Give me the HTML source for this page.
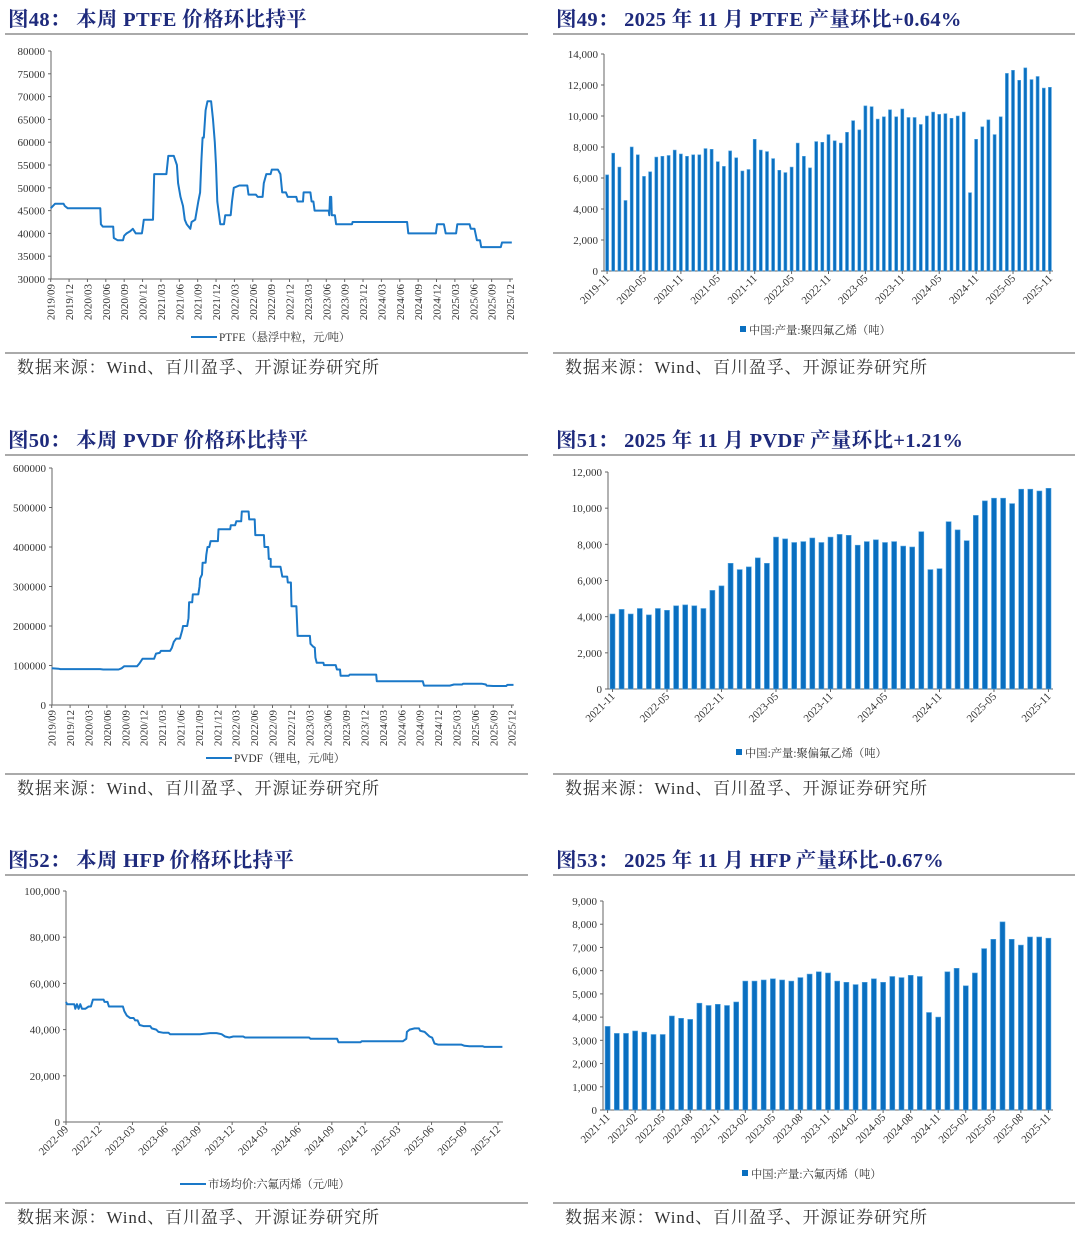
<!DOCTYPE html>
<html><head><meta charset="utf-8">
<style>
html,body{margin:0;padding:0;background:#fff;}
svg{display:block;}
text{font-family:"Liberation Serif","Noto Serif CJK SC","Noto Sans CJK SC",serif;fill:#222;}
.ttl{font-weight:bold;font-size:20.5px;fill:#1e2a7c;letter-spacing:0.3px;}
.src{font-size:17px;fill:#333;letter-spacing:0.9px;}
.tk{font-size:11px;fill:#333;}
.lg{font-size:11.3px;fill:#333;}
</style></head>
<body>
<svg id="root" width="1080" height="1238" viewBox="0 0 1080 1238"></svg>
<script>
// ===== Chart 48 PTFE price (x = months since 2019-09) =====
const ptfeMonths=[0,0.7,2.1,2.3,2.8,8.1,8.2,8.5,10.2,10.3,10.9,11.8,12.0,12.4,13.0,13.4,13.9,14.9,15.0,15.2,16.7,16.9,18.9,19.2,20.1,20.6,20.8,21.2,21.6,21.9,22.2,22.8,23.0,23.6,24.1,24.4,24.6,24.8,25.0,25.3,25.6,26.2,26.5,26.8,27.0,27.2,27.4,27.7,28.3,28.5,29.4,29.6,29.9,30.8,32.1,32.3,33.5,33.8,34.6,34.8,35.2,35.9,36.1,37.1,37.5,37.8,38.4,38.7,40.1,40.3,41.2,41.3,42.4,42.6,42.9,43.1,45.4,45.5,45.6,45.8,45.9,46.4,46.6,49.2,49.3,58.2,58.4,62.9,63.1,64.2,64.5,66.2,66.4,68.4,68.6,69.2,69.6,70.1,70.3,73.5,73.7,75.3];
const ptfeValues=[45500,46500,46500,46000,45500,45500,42000,41500,41500,39000,38500,38500,39500,40000,40500,41000,40000,40000,41000,43000,43000,53000,53000,57000,57000,55000,51000,48000,46000,43000,42000,41000,42500,43000,47000,49000,56000,61000,61000,67000,69000,69000,65000,60000,55000,47000,45000,42000,42000,44000,44000,47000,50000,50500,50500,48500,48500,48000,48000,51000,53000,53000,54000,54000,53000,49000,49000,48000,48000,47000,47000,49000,49000,47000,47000,45000,45000,44000,48000,48000,44000,44000,42000,42000,42500,42500,40000,40000,42000,42000,40000,40000,42000,42000,41000,41000,38500,38500,37000,37000,38000,38000];
const ptfeYTicks=[30000,35000,40000,45000,50000,55000,60000,65000,70000,75000,80000];
const ptfeXLabels=["2019/09","2019/12","2020/03","2020/06","2020/09","2020/12","2021/03","2021/06","2021/09","2021/12","2022/03","2022/06","2022/09","2022/12","2023/03","2023/06","2023/09","2023/12","2024/03","2024/06","2024/09","2024/12","2025/03","2025/06","2025/09","2025/12"];

// ===== Chart 50 PVDF price =====
const pvdfMonths=[0,1.1,1.4,7.9,8.4,10.9,11.4,11.8,13.9,14.3,14.8,16.7,17.0,17.6,17.8,19.3,19.6,19.9,20.3,20.9,21.3,21.4,22.1,22.3,22.4,22.9,23.0,23.9,24.1,24.2,24.5,24.6,25.1,25.2,25.4,25.7,25.9,27.1,27.2,29.1,29.2,29.9,30.1,30.9,31.0,32.1,32.2,33.1,33.2,34.6,34.7,35.3,35.4,35.7,35.7,37.3,37.6,38.4,38.5,39.0,39.1,39.9,40.1,42.1,42.2,42.6,42.9,43.0,43.2,44.3,44.4,46.3,46.5,47.0,47.1,48.4,48.6,52.9,53.0,60.5,60.7,64.9,65.6,66.9,67.1,70.1,70.8,70.9,72.0,74.1,74.3,75.3];
const pvdfValues=[93000,92000,91000,91000,90000,90000,93000,98000,98000,105000,117000,117000,130000,132000,137000,137000,145000,160000,168000,168000,190000,200000,200000,220000,260000,260000,280000,280000,300000,320000,330000,360000,360000,380000,400000,400000,415000,415000,445000,445000,455000,455000,465000,465000,490000,490000,470000,470000,430000,430000,400000,400000,370000,370000,350000,350000,325000,325000,310000,310000,250000,250000,175000,175000,155000,148000,145000,120000,107000,107000,101000,101000,90000,90000,74000,74000,77000,77000,60000,60000,49000,49000,52000,52000,54000,54000,52000,49000,48000,48000,51000,51000];
const pvdfYTicks=[0,100000,200000,300000,400000,500000,600000];
const pvdfXLabels=ptfeXLabels.slice();

// ===== Chart 52 HFP price (x = months since 2022-09) =====
const hfpMonths=[0,0.1,0.75,0.84,0.99,1.14,1.29,1.44,1.74,2.04,2.25,2.43,3.39,3.48,3.75,3.87,5.14,5.26,5.5,5.8,6.1,6.25,6.46,6.64,7.0,7.6,7.75,8.14,8.35,8.8,9.25,9.4,12.1,13.0,13.6,14.05,14.35,14.74,15.1,16.0,16.16,21.95,22.07,24.47,24.6,26.58,26.7,30.42,30.57,30.72,30.78,31.02,31.47,31.86,31.98,32.37,32.82,33.06,33.27,33.57,35.68,35.98,36.43,37.6,37.79,39.4];
const hfpValues=[52000,51000,51000,49000,51000,49000,51000,49000,49000,50000,50000,53000,53000,52000,52000,50000,50000,48000,46000,45000,45000,44000,44000,42000,41500,41500,40500,40000,39000,38600,38600,38000,38000,38500,38500,38000,37000,36600,37000,37000,36600,36600,36000,36000,34500,34500,35000,35000,35500,36000,39000,40000,40500,40500,39500,39000,37000,36500,34000,33500,33500,33000,32800,32800,32500,32500];
const hfpYTicks=[0,20000,40000,60000,80000,100000];
const hfpXLabels=["2022-09","2022-12","2023-03","2023-06","2023-09","2023-12","2024-03","2024-06","2024-09","2024-12","2025-03","2025-06","2025-09","2025-12"];

// ===== Chart 49 PTFE output (monthly from 2019-11) =====
const ptfeOutput=[6200,7600,6700,4550,8000,7500,6100,6400,7350,7400,7450,7800,7550,7400,7500,7500,7900,7850,7050,6750,7750,7300,6450,6550,8500,7800,7700,7250,6500,6350,6700,8250,7400,6650,8350,8300,8800,8400,8250,8950,9700,9100,10650,10600,9800,9950,10400,9950,10450,9900,9900,9450,10000,10250,10100,10150,9850,10000,10250,5050,8500,9300,9750,8800,9950,12750,12950,12300,13100,12350,12550,11800,11850];
const ptfeOutYTicks=[0,2000,4000,6000,8000,10000,12000,14000];
const ptfeOutXLabels=["2019-11","2020-05","2020-11","2021-05","2021-11","2022-05","2022-11","2023-05","2023-11","2024-05","2024-11","2025-05","2025-11"];

// ===== Chart 51 PVDF output (monthly from 2021-11) =====
const pvdfOutput=[4150,4400,4150,4450,4100,4450,4350,4600,4650,4600,4450,5450,5700,6950,6600,6750,7250,6950,8400,8300,8100,8150,8350,8100,8400,8550,8500,7950,8150,8250,8100,8150,7900,7850,8700,6600,6650,9250,8800,8200,9600,10400,10550,10550,10250,11050,11050,10950,11100];
const pvdfOutYTicks=[0,2000,4000,6000,8000,10000,12000];
const pvdfOutXLabels=["2021-11","2022-05","2022-11","2023-05","2023-11","2024-05","2024-11","2025-05","2025-11"];

// ===== Chart 53 HFP output (monthly from 2021-11) =====
const hfpOutput=[3600,3300,3300,3400,3350,3250,3250,4050,3950,3900,4600,4500,4550,4500,4650,5550,5550,5600,5650,5600,5550,5700,5850,5950,5900,5550,5500,5400,5500,5650,5500,5750,5700,5800,5750,4200,4000,5950,6100,5350,5900,6950,7350,8100,7350,7100,7450,7450,7400];
const hfpOutYTicks=[0,1000,2000,3000,4000,5000,6000,7000,8000,9000];
const hfpOutXLabels=["2021-11","2022-02","2022-05","2022-08","2022-11","2023-02","2023-05","2023-08","2023-11","2024-02","2024-05","2024-08","2024-11","2025-02","2025-05","2025-08","2025-11"];

const NS='http://www.w3.org/2000/svg';
const root=document.getElementById('root');
function el(tag,parent){const e=document.createElementNS(NS,tag);parent.appendChild(e);return e;}
function fmt(v,comma){return comma?v.toLocaleString('en-US'):String(v);}
const BLUE='#1a78c8';

function frame(x0,x1,titleY,title,srcY,name){
  const g=el('g',root);
  
  
  const t=el('text',g);t.setAttribute('class','ttl');t.setAttribute('x',x0+3);t.setAttribute('y',titleY);t.textContent=title;
  
  
  const l1=el('line',g);l1.setAttribute('x1',x0);l1.setAttribute('x2',x1);l1.setAttribute('y1',titleY+8);l1.setAttribute('y2',titleY+8);l1.setAttribute('stroke','#555');l1.setAttribute('stroke-width','1');
  
  
  const l2=el('line',g);l2.setAttribute('x1',x0);l2.setAttribute('x2',x1);l2.setAttribute('y1',srcY-14);l2.setAttribute('y2',srcY-14);l2.setAttribute('stroke','#555');l2.setAttribute('stroke-width','1');
  
  
  const s=el('text',g);s.setAttribute('class','src');s.setAttribute('x',x0+12);s.setAttribute('y',srcY+6);s.textContent='数据来源：Wind、百川盈孚、开源证券研究所';
  
  
  return g;
}

function yAxis(g,ax,yTop,yBot,ticks,comma,name,fs){
  const min=ticks[0],max=ticks[ticks.length-1];
  const ys=v=>yBot-(v-min)/(max-min)*(yBot-yTop);
  const a=el('line',g);a.setAttribute('x1',ax);a.setAttribute('x2',ax);a.setAttribute('y1',yTop);a.setAttribute('y2',yBot);a.setAttribute('stroke','#666');
  
  
  ticks.forEach(v=>{
    const tk=el('line',g);tk.setAttribute('x1',ax-3);tk.setAttribute('x2',ax);tk.setAttribute('y1',ys(v));tk.setAttribute('y2',ys(v));tk.setAttribute('stroke','#666');
    
    
    const t=el('text',g);t.setAttribute('class','tk');t.setAttribute('font-size',fs);t.setAttribute('x',ax-6);t.setAttribute('y',ys(v)+4);t.setAttribute('text-anchor','end');t.textContent=fmt(v,comma);
    
    
  });
  return ys;
}

function xAxisLine(g,x0,x1,y,name){
  const a=el('line',g);a.setAttribute('x1',x0);a.setAttribute('x2',x1);a.setAttribute('y1',y);a.setAttribute('y2',y);a.setAttribute('stroke','#666');
  
  
}
function xTick(g,x,y,label,rot,name,fs){
  const tk=el('line',g);tk.setAttribute('x1',x);tk.setAttribute('x2',x);tk.setAttribute('y1',y);tk.setAttribute('y2',y+3);tk.setAttribute('stroke','#666');
  
  
  const t=el('text',g);t.setAttribute('class','tk');t.setAttribute('text-anchor','end');t.setAttribute('font-size',fs);
  if(rot===-90){t.setAttribute('transform','translate('+(x+4)+','+(y+5)+') rotate(-90)');}
  else{t.setAttribute('transform','translate('+(x+3)+','+(y+8)+') rotate(-45)');}
  t.textContent=label;
  
  
}

function lineChart(o){
  const g=frame(o.fx0,o.fx1,o.titleY,o.title,o.srcY,o.name);
  const ys=yAxis(g,o.ax,o.yTop,o.yBot,o.yTicks,o.comma,o.name,o.yfs);
  xAxisLine(g,o.ax,o.xEnd,o.yBot,o.name);
  const xs=m=>o.xa+(m-o.m0)/(o.m1-o.m0)*(o.xb-o.xa);
  o.xLabels.forEach((lab,i)=>xTick(g,xs(i*o.labStep),o.yBot,lab,o.rot,o.name,o.xfs));
  const pts=o.months.map((m,i)=>xs(m).toFixed(1)+','+ys(o.values[i]).toFixed(1)).join(' ');
  const p=el('polyline',g);p.setAttribute('points',pts);p.setAttribute('fill','none');p.setAttribute('stroke',BLUE);p.setAttribute('stroke-width','2');p.setAttribute('stroke-linejoin','round');
  
  
  const ls=el('line',g);ls.setAttribute('x1',o.lgX);ls.setAttribute('x2',o.lgX+26);ls.setAttribute('y1',o.lgY-4);ls.setAttribute('y2',o.lgY-4);ls.setAttribute('stroke',BLUE);ls.setAttribute('stroke-width','2');
  
  
  const lt=el('text',g);lt.setAttribute('class','lg');lt.setAttribute('x',o.lgX+28);lt.setAttribute('y',o.lgY);lt.textContent=o.legend;
  
  
}

function barChart(o){
  const g=frame(o.fx0,o.fx1,o.titleY,o.title,o.srcY,o.name);
  const ys=yAxis(g,o.ax,o.yTop,o.yBot,o.yTicks,true,o.name,11.5);
  xAxisLine(g,o.ax,o.xEnd,o.yBot,o.name);
  const n=o.values.length;const slot=(o.xEnd-o.ax)/n;
  const xc=i=>o.ax+slot*(i+0.5);
  o.values.forEach((v,i)=>{
    const r=el('rect',g);r.setAttribute('x',(xc(i)-o.bw/2).toFixed(1));r.setAttribute('width',o.bw);r.setAttribute('y',ys(v).toFixed(1));r.setAttribute('height',(o.yBot-ys(v)).toFixed(1));r.setAttribute('fill','#0a6fc0');r.setAttribute('stroke','#4fa3e0');r.setAttribute('stroke-width','0.6');
    
    
  });
  o.xLabels.forEach((lab,i)=>xTick(g,xc(i*o.labStep),o.yBot,lab,-45,o.name,11.5));
  const sq=el('rect',g);sq.setAttribute('x',o.lgX);sq.setAttribute('y',o.lgY-8);sq.setAttribute('width',6);sq.setAttribute('height',6);sq.setAttribute('fill','#0a6fc0');
  
  
  const lt=el('text',g);lt.setAttribute('class','lg');lt.setAttribute('x',o.lgX+9);lt.setAttribute('y',o.lgY);lt.textContent=o.legend;
  
  
}

lineChart({name:'ptfe-price',fx0:5,fx1:528,titleY:26,title:'图48：  本周 PTFE 价格环比持平',srcY:367,ax:51,yTop:51,yBot:279,xEnd:513,yTicks:ptfeYTicks,comma:false,yfs:11,xfs:10,xa:50.7,xb:510,m0:0,m1:75,months:ptfeMonths,values:ptfeValues,xLabels:ptfeXLabels,labStep:3,rot:-90,lgX:191,lgY:341,legend:'PTFE（悬浮中粒，元/吨）'});
lineChart({name:'pvdf-price',fx0:5,fx1:528,titleY:447,title:'图50：  本周 PVDF 价格环比持平',srcY:788,ax:52,yTop:468,yBot:705,xEnd:514,yTicks:pvdfYTicks,comma:false,yfs:11,xfs:10,xa:51.7,xb:511.7,m0:0,m1:75,months:pvdfMonths,values:pvdfValues,xLabels:pvdfXLabels,labStep:3,rot:-90,lgX:206,lgY:762,legend:'PVDF（锂电，元/吨）'});
lineChart({name:'hfp-price',fx0:5,fx1:528,titleY:867,title:'图52：  本周 HFP 价格环比持平',srcY:1217,ax:66,yTop:891,yBot:1122,xEnd:503,yTicks:hfpYTicks,comma:true,yfs:12,xfs:11.5,xa:66,xb:498,m0:0,m1:39,months:hfpMonths,values:hfpValues,xLabels:hfpXLabels,labStep:3,rot:-45,lgX:180,lgY:1188,legend:'市场均价:六氟丙烯（元/吨）'});

barChart({name:'ptfe-output',fx0:553,fx1:1075,titleY:26,title:'图49：  2025 年 11 月 PTFE 产量环比+0.64%',srcY:367,ax:604,yTop:54,yBot:271,xEnd:1053,yTicks:ptfeOutYTicks,values:ptfeOutput,bw:3,xLabels:ptfeOutXLabels,labStep:6,lgX:740,lgY:334,legend:'中国:产量:聚四氟乙烯（吨）'});
barChart({name:'pvdf-output',fx0:553,fx1:1075,titleY:447,title:'图51：  2025 年 11 月 PVDF 产量环比+1.21%',srcY:788,ax:608,yTop:472,yBot:689,xEnd:1053,yTicks:pvdfOutYTicks,values:pvdfOutput,bw:5,xLabels:pvdfOutXLabels,labStep:6,lgX:736,lgY:757,legend:'中国:产量:聚偏氟乙烯（吨）'});
barChart({name:'hfp-output',fx0:553,fx1:1075,titleY:867,title:'图53：  2025 年 11 月 HFP 产量环比-0.67%',srcY:1217,ax:603,yTop:901,yBot:1110,xEnd:1053,yTicks:hfpOutYTicks,values:hfpOutput,bw:5,xLabels:hfpOutXLabels,labStep:3,lgX:742,lgY:1178,legend:'中国:产量:六氟丙烯（吨）'});
</script>
</body></html>
